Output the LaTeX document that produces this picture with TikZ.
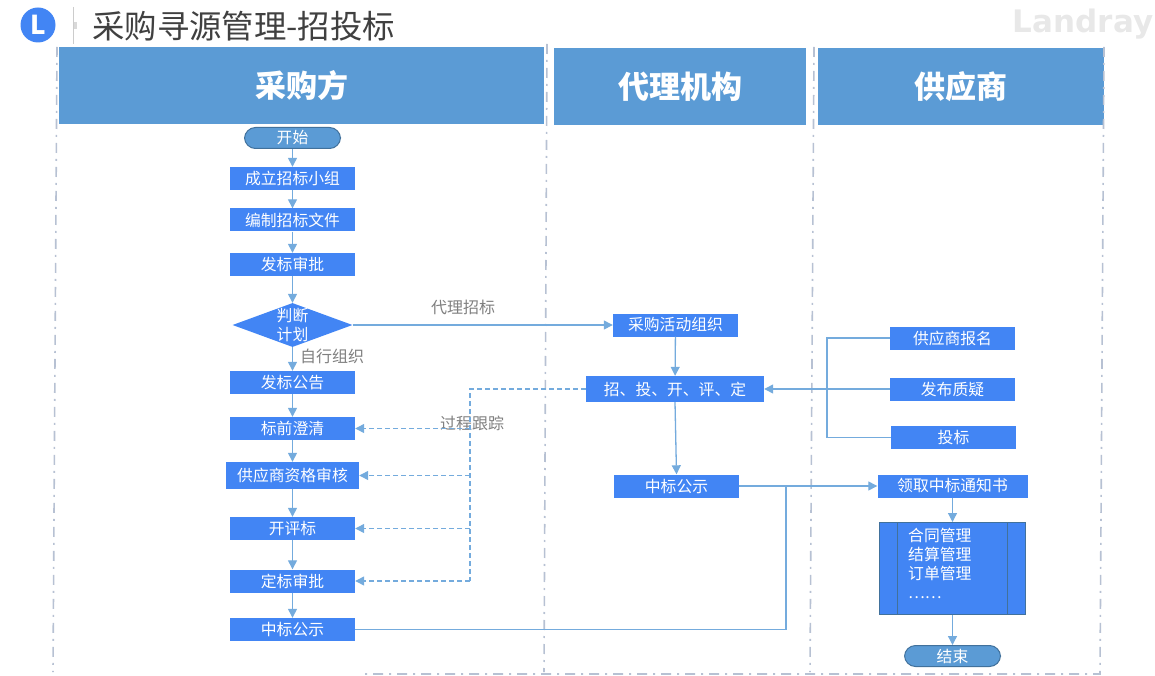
\documentclass[tikz,border=0pt]{standalone}
\usepackage{xcolor}
\usepackage{fontspec}
\setmainfont{Noto Sans CJK SC}
\newfontfamily\landrayfont{DejaVu Sans}
\usetikzlibrary{positioning,shapes.geometric,arrows.meta}
\definecolor{headblue}{HTML}{5B9BD5}
\definecolor{boxblue}{HTML}{4285F4}
\definecolor{edgeblue}{HTML}{41719C}
\definecolor{lineblue}{HTML}{74ABDD}
\definecolor{laneline}{HTML}{B7C1D3}
\definecolor{labelgray}{HTML}{7F7F7F}
\tikzset{
  head/.style={rectangle, fill=headblue, text=white, minimum height=77pt, inner sep=0pt, font=\fontsize{31}{36}\selectfont\bfseries},
  bluebox/.style={rectangle, fill=boxblue, text=white, minimum width=125pt, minimum height=23pt, inner sep=0pt, font=\fontsize{15.8}{19}\selectfont},
  startend/.style={rectangle, rounded corners=11pt, draw=edgeblue, line width=1pt, fill=headblue, text=white, minimum width=96pt, minimum height=21pt, inner sep=0pt, font=\fontsize{15.8}{19}\selectfont},
  steptext/.style={text=labelgray, inner sep=0pt, font=\fontsize{16}{19}\selectfont},
  flow/.style={draw=lineblue, line width=1.3pt},
  track/.style={flow, dashed, dash pattern=on 5pt off 3pt},
  lane/.style={draw=laneline, line width=1.6pt, dash pattern=on 10pt off 6pt on 2pt off 6pt}
}
\begin{document}
\begin{tikzpicture}[x=1pt, y=-1pt, >={Triangle[length=9pt,width=9pt]}]
\useasboundingbox (0,0) rectangle (1155,676);

% title row
\node[circle, fill=boxblue, text=white, minimum size=35pt, inner sep=0pt, font=\fontsize{26}{26}\selectfont\bfseries] (logo) at (38,25) {L};
\draw[draw=black!20, line width=1pt] (73,7) coordinate (sepa) -- (73,44) coordinate (sepb);
\fill[black!15] (74,22) rectangle (77,29);
\node[anchor=west, inner sep=0pt, text=black!75, font=\fontsize{32.4}{38}\selectfont] (title) at (92,26) {采购寻源管理-招投标};
\node[inner sep=0pt, text=black!9, font=\landrayfont\fontsize{31}{34}\selectfont\bfseries] (brand) at (1083,24) {Landray};

% lanes
\node[head, minimum width=485pt] (buyer) at (301.5,85.5) {采购方};
\node[head, minimum width=252pt] (agency) at (680,86.5) {代理机构};
\node[head, minimum width=286pt] (supplier) at (961,86.5) {供应商};
\draw[lane] (57,47) -- (53,672);
\draw[lane] (547,44) -- (544,672);
\draw[lane] (814,47) -- (810,672);
\draw[lane] (1104,47) -- (1100,674) -- (360,674);

% buyer
\node[startend] (start) at (292.5,138) {开始};
\node[bluebox] (team) at (292.5,178.5) {成立招标小组};
\node[bluebox] (docs) at (292.5,220) {编制招标文件};
\node[bluebox] (approve) at (292.5,264.5) {发标审批};
\node[diamond, fill=boxblue, minimum width=120pt, minimum height=44pt, inner sep=0pt, aspect=2.7, label={[text=white, align=center, inner sep=0pt, font=\fontsize{15.8}{19}\selectfont]center:判断\\计划}] (judge) at (292.5,325) {};
\node[bluebox] (notice) at (292.5,382.5) {发标公告};
\node[bluebox] (clarify) at (292.5,428.5) {标前澄清};
\node[bluebox, minimum width=133pt, minimum height=27pt] (qualify) at (292.5,475.5) {供应商资格审核};
\node[bluebox] (evaluate) at (292.5,528.5) {开评标};
\node[bluebox] (decide) at (292.5,581) {定标审批};
\node[bluebox] (publicb) at (292.5,629.5) {中标公示};

% agency
\node[bluebox] (organize) at (675.5,325) {采购活动组织};
\node[bluebox, minimum width=178pt, minimum height=26pt] (bidding) at (675,389) {招、投、开、评、定};
\node[bluebox] (publica) at (676.5,486) {中标公示};

% supplier
\node[bluebox] (signup) at (952.5,338) {供应商报名};
\node[bluebox] (query) at (952.5,389) {发布质疑};
\node[bluebox] (tender) at (953.5,437.5) {投标};
\node[bluebox, minimum width=150pt] (award) at (952.5,486) {领取中标通知书};
\node[rectangle, draw=edgeblue, line width=1pt, fill=boxblue, minimum width=146pt, minimum height=92pt, inner sep=0pt] (manage) at (952.5,568.5) {};
\draw[draw=edgeblue, line width=1pt] (manage.north west) ++(18,0) -- ++(0,92);
\draw[draw=edgeblue, line width=1pt] (manage.north east) ++(-19,0) -- ++(0,92);
\node[anchor=north west, text=white, align=left, inner sep=0pt, font=\fontsize{15.8}{19.3}\selectfont] (managetext) at (908,527.5) {合同管理\\结算管理\\订单管理\\……};
\node[startend] (finish) at (952.5,656) {结束};

% labels
\node[steptext] (lagency) at (463,307) {代理招标};
\node[steptext] (lself) at (332,356) {自行组织};
\node[steptext] (ltrack) at (472,423) {过程跟踪};

% buyer flow
\draw[flow,->] (start) -- (team);
\draw[flow,->] (team) -- (docs);
\draw[flow,->] (docs) -- (approve);
\draw[flow,->] (approve) -- (judge);
\draw[flow,->] (judge) -- (notice);
\draw[flow,->] (notice) -- (clarify);
\draw[flow,->] (clarify) -- (qualify);
\draw[flow,->] (qualify) -- (evaluate);
\draw[flow,->] (evaluate) -- (decide);
\draw[flow,->] (decide) -- (publicb);

% agency flow
\draw[flow,->] (judge.east) -- (organize.west);
\draw[flow,->] (organize) -- (bidding);
\draw[flow,->] (bidding.south) -- (publica.north);

% tracking back to the buyer
\coordinate (trackend) at (470,581);
\draw[track] (bidding.west) -| (trackend);
\draw[track,->] (trackend |- clarify) -- (clarify.east);
\draw[track,->] (trackend |- qualify) -- (qualify.east);
\draw[track,->] (trackend |- evaluate) -- (evaluate.east);
\draw[track,->] (trackend) -- (decide.east);

% supplier flow
\coordinate (bus) at (827,389);
\draw[flow,->] (query.west) -- (bidding.east);
\draw[flow] (signup.west) -| (bus);
\draw[flow] (tender.west) -| (bus);
\draw[flow,->] (publica.east) -- (award.west);
\coordinate (join) at (786,486);
\draw[flow] (publicb.east) -| (join);
\draw[flow,->] (award) -- (manage);
\draw[flow,->] (manage) -- (finish);
\end{tikzpicture}
\end{document}
